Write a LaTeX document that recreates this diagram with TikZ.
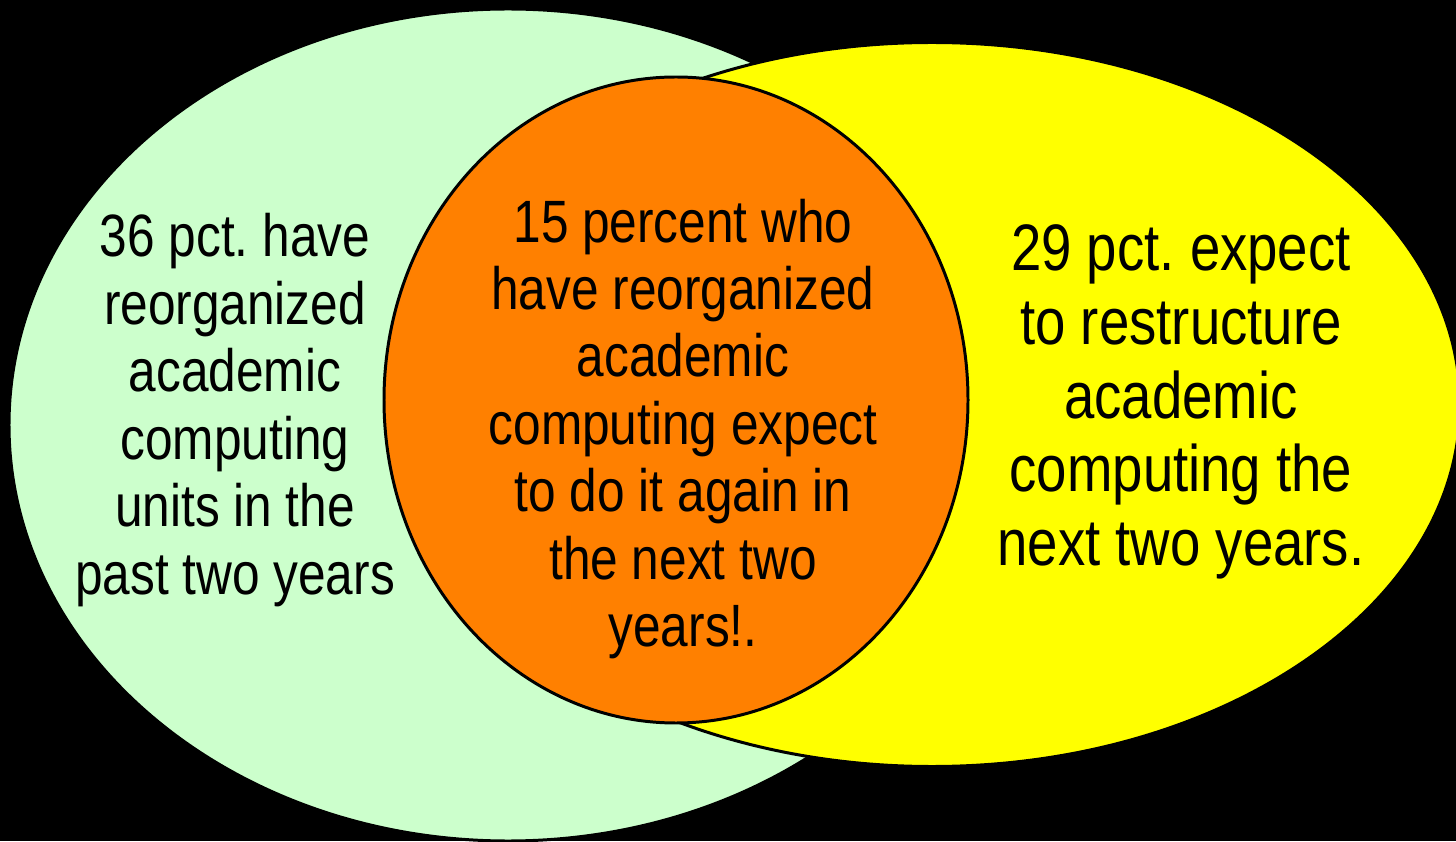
\documentclass[tikz,border=0pt]{standalone}
\usepackage{fontspec}
\setmainfont[FakeStretch=0.83]{Liberation Sans}
\usetikzlibrary{shapes.geometric}
\frenchspacing

\tikzset{
  setshape/.style={ellipse, draw=black, line width=1.7pt, inner sep=0pt},
  smalltext/.style={align=center, inner sep=0pt, font=\fontsize{34}{38.4}\selectfont},
  bigtext/.style={align=center, inner sep=0pt, font=\fontsize{37.4}{42}\selectfont}
}

\begin{document}
\begin{tikzpicture}
    \useasboundingbox (0, 0) rectangle (29.12, 16.82);
    \fill[black] (0, 0) rectangle (29.12, 16.82);

    \node[setshape, fill={rgb,255:red,204;green,255;blue,204}, minimum width=19.96cm, minimum height=16.64cm] (past) at (10.16, 8.32) {};
    \node[setshape, fill={rgb,255:red,255;green,255;blue,0}, minimum width=21.12cm, minimum height=14.48cm] (next) at (18.64, 8.73) {};
    \node[setshape, fill={rgb,255:red,255;green,128;blue,0}, minimum width=11.68cm, minimum height=12.92cm] (both) at (13.52, 8.82) {};

    \node[smalltext] (pasttext) at (4.70, 8.62) {36 pct. have\\reorganized\\academic\\computing\\units in the\\past two years};
    \node[smalltext] (bothtext) at (13.66, 8.24) {15 percent who\\have reorganized\\academic\\computing expect\\to do it again in\\the next two\\years!.};
    \node[bigtext] (nexttext) at (23.62, 8.78) {29 pct. expect\\to restructure\\academic\\computing the\\next two years.};
\end{tikzpicture}
\end{document}
